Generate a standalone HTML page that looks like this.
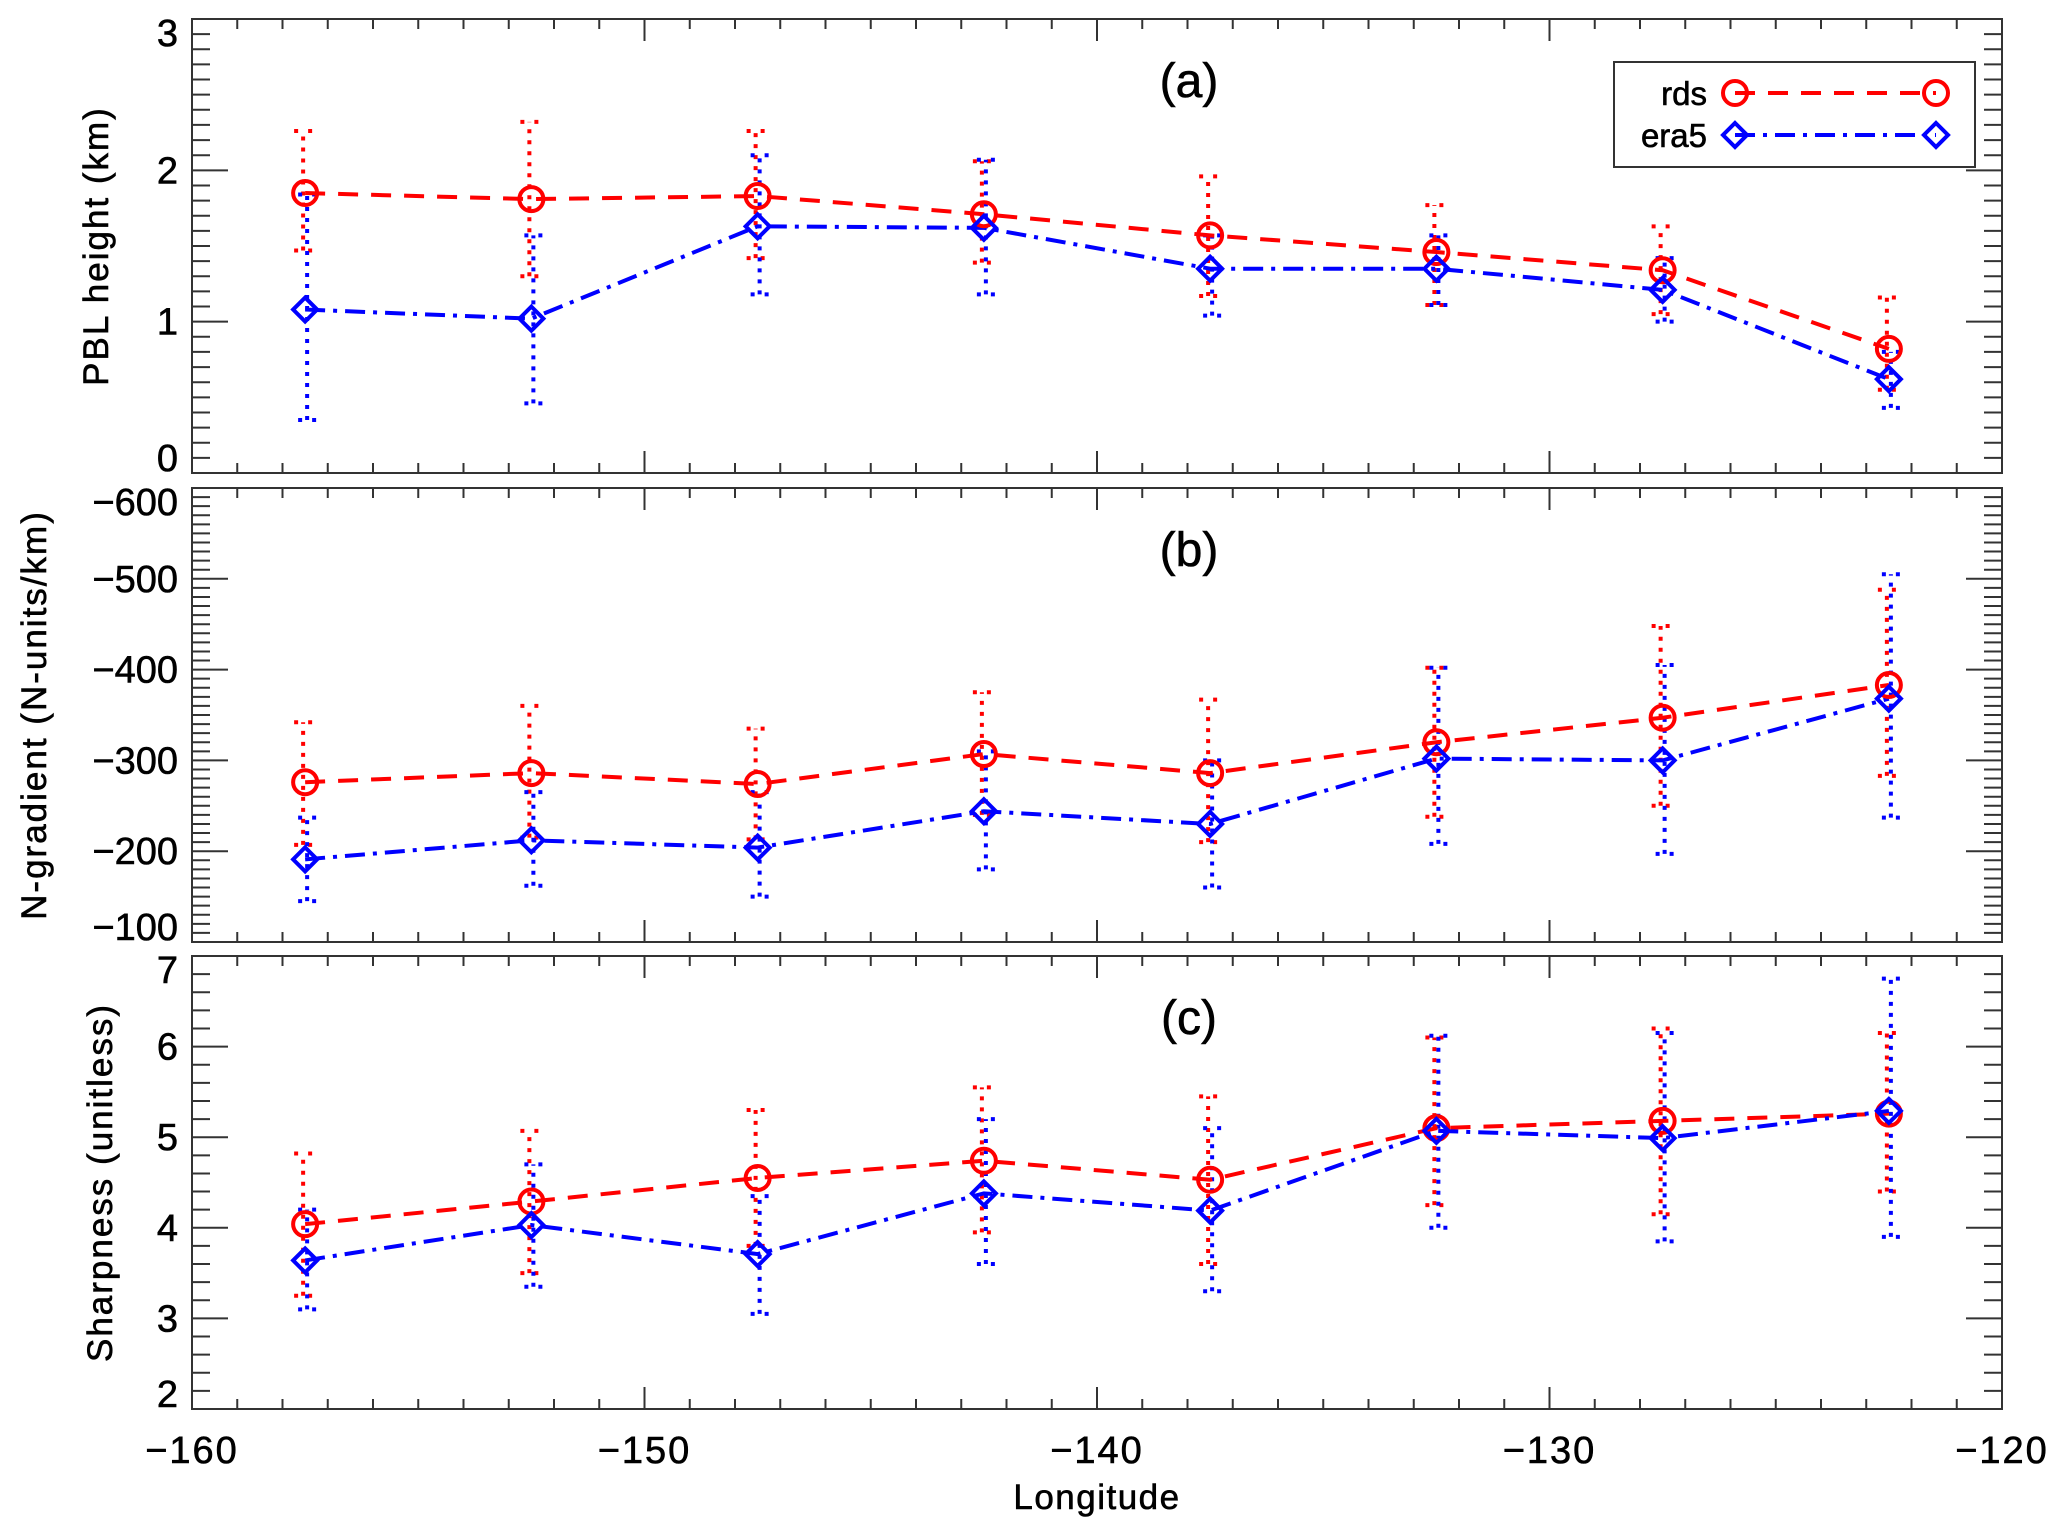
<!DOCTYPE html>
<html><head><meta charset="utf-8"><style>
html,body{margin:0;padding:0;background:#fff;}
svg{display:block;font-family:"Liberation Sans",sans-serif;}
text{stroke:#000;stroke-width:0.6px;}
</style></head><body>
<svg id="chart" width="2067" height="1538" viewBox="0 0 2067 1538" xmlns="http://www.w3.org/2000/svg"></svg>
<script>
const lons = [-157.5,-152.5,-147.5,-142.5,-137.5,-132.5,-127.5,-122.5];
const xTicks = [-160,-150,-140,-130,-120];
const xTickLabels = ["\u2212160","\u2212150","\u2212140","\u2212130","\u2212120"];

const pblRds = [1.85,1.81,1.83,1.71,1.57,1.46,1.34,0.82];
const pblRdsLo = [1.47,1.30,1.42,1.39,1.17,1.11,1.05,0.55];
const pblRdsHi = [2.26,2.32,2.26,2.06,1.96,1.77,1.63,1.16];
const pblEra = [1.08,1.02,1.63,1.62,1.35,1.35,1.21,0.62];
const pblEraLo = [0.35,0.46,1.18,1.18,1.04,1.11,1.00,0.43];
const pblEraHi = [1.84,1.57,2.10,2.07,1.57,1.57,1.42,0.80];

const ngRds = [-276,-286,-274,-307,-286,-320,-347,-383];
const ngRdsLo = [-207,-215,-213,-240,-210,-238,-250,-283];
const ngRdsHi = [-342,-360,-335,-375,-367,-402,-448,-488];
const ngEra = [-191,-212,-204,-244,-230,-302,-300,-368];
const ngEraLo = [-145,-162,-150,-180,-160,-208,-197,-237];
const ngEraHi = [-237,-265,-265,-310,-300,-402,-405,-505];

const shRds = [4.04,4.29,4.55,4.74,4.53,5.10,5.18,5.26];
const shRdsLo = [3.25,3.50,3.80,3.95,3.60,4.25,4.15,4.40];
const shRdsHi = [4.82,5.07,5.30,5.55,5.45,6.10,6.20,6.15];
const shEra = [3.64,4.03,3.71,4.38,4.19,5.07,4.99,5.29];
const shEraLo = [3.10,3.35,3.05,3.60,3.30,4.00,3.85,3.90];
const shEraHi = [4.20,4.70,4.35,5.20,5.10,6.12,6.15,6.75];

const pblTicks=[0,1,2,3], ngTicks=[-100,-200,-300,-400,-500,-600], shTicks=[2,3,4,5,6,7];

const NS="http://www.w3.org/2000/svg";
const svg=document.getElementById('chart');
function mk(tag,attrs,parent){const e=document.createElementNS(NS,tag);for(const k in attrs)e.setAttribute(k,attrs[k]);(parent||svg).appendChild(e);return e;}
const X0=192,X1=2002,xmin=-160,xmax=-120;
const xs=v=>X0+(v-xmin)/(xmax-xmin)*(X1-X0);
const RED="#ff0000",BLUE="#0000ff",AX="#333";

const panels=[
 {key:'a',top:19,bot:473,lo:0,hi:3,ticks:pblTicks,minor:0.1,title:"PBL height (km)",tx:108,label:"(a)",
  r:pblRds,rl:pblRdsLo,rh:pblRdsHi,e:pblEra,el:pblEraLo,eh:pblEraHi,fmt:v=>String(v)},
 {key:'b',top:488,bot:942,lo:-100,hi:-600,ticks:ngTicks,minor:10,title:"N-gradient (N-units/km)",tx:46,label:"(b)",
  r:ngRds,rl:ngRdsLo,rh:ngRdsHi,e:ngEra,el:ngEraLo,eh:ngEraHi,fmt:v=>"\u2212"+Math.abs(v)},
 {key:'c',top:956,bot:1409,lo:2,hi:7,ticks:shTicks,minor:0.2,title:"Sharpness (unitless)",tx:112,label:"(c)",
  r:shRds,rl:shRdsLo,rh:shRdsHi,e:shEra,el:shEraLo,eh:shEraHi,fmt:v=>String(v)}
];

panels.forEach(p=>{
  const g=mk('g',{});
  
  
  const ys=v=>p.bot-(v-p.lo)/(p.hi-p.lo)*(p.bot-p.top);
  const fr=mk('rect',{x:X0,y:p.top,width:X1-X0,height:p.bot-p.top,fill:'none',stroke:AX,'stroke-width':2},g);
  
  
  for(let v=xmin;v<=xmax;v++){
    const major=(v%10===0);const L=major?22:10;const x=xs(v);
    mk('line',{x1:x,y1:p.bot,x2:x,y2:p.bot-L,stroke:AX,'stroke-width':2},g);
    mk('line',{x1:x,y1:p.top,x2:x,y2:p.top+L,stroke:AX,'stroke-width':2},g);
  }
  const n=Math.round(Math.abs(p.hi-p.lo)/p.minor);
  for(let i=0;i<=n;i++){
    const v=p.lo+(p.hi>p.lo?1:-1)*i*p.minor;const y=ys(v);
    const major=(i%10===0)||(p.key==='c'&&i%5===0);
    const L=major?36:18;
    mk('line',{x1:X0,y1:y,x2:X0+L,y2:y,stroke:AX,'stroke-width':2},g);
    mk('line',{x1:X1,y1:y,x2:X1-L,y2:y,stroke:AX,'stroke-width':2},g);
  }
  p.ticks.forEach((v,i)=>{
    let y=ys(v)+13;
    if(Math.abs(y-13-p.top)<2) y=p.top+27;
    if(Math.abs(y-13-p.bot)<2) y=p.bot-2;
    const t=mk('text',{x:X0-14,y:y,'text-anchor':'end','font-size':38,fill:'#000'},g);
    t.textContent=p.fmt(v);
    
    
  });
  const cy=(p.top+p.bot)/2;
  const tt=mk('text',{x:p.tx,y:cy,'text-anchor':'middle','font-size':35,fill:'#000',transform:`rotate(-90 ${p.tx} ${cy})`,'letter-spacing':2},g);
  tt.textContent=p.title;
  
  
  const pl=mk('text',{x:1189,y:p.top+78,'text-anchor':'middle','font-size':48,fill:'#000'},g);
  pl.textContent=p.label;
  
  
  [[p.rl,p.rh,RED,-2],[p.el,p.eh,BLUE,2]].forEach(([lo,hi,c,dx])=>{
    lons.forEach((lon,i)=>{
      const x=xs(lon)+dx;
      const eb=mk('line',{x1:x,y1:ys(lo[i]),x2:x,y2:ys(hi[i]),stroke:c,'stroke-width':4,'stroke-dasharray':'4 7'},g);
      
      
      [lo[i],hi[i]].forEach(v=>{
        mk('line',{x1:x-9,y1:ys(v),x2:x+9,y2:ys(v),stroke:c,'stroke-width':4,'stroke-dasharray':'4 10'},g);
      });
    });
  });
  const ptsR=lons.map((l,i)=>xs(l)+','+ys(p.r[i])).join(' ');
  const ptsE=lons.map((l,i)=>xs(l)+','+ys(p.e[i])).join(' ');
  const lr=mk('polyline',{points:ptsR,fill:'none',stroke:RED,'stroke-width':4,'stroke-dasharray':'20 13'},g);
  
  
  const le=mk('polyline',{points:ptsE,fill:'none',stroke:BLUE,'stroke-width':4,'stroke-dasharray':'20 8 4 8'},g);
  
  
  lons.forEach((l,i)=>{
    const x=xs(l),y=ys(p.r[i]);
    const c=mk('circle',{cx:x,cy:y,r:12,fill:'none',stroke:RED,'stroke-width':4},g);
    
    
    const y2=ys(p.e[i]);
    const d=mk('polygon',{points:`${x},${y2-12} ${x+12},${y2} ${x},${y2+12} ${x-12},${y2}`,fill:'none',stroke:BLUE,'stroke-width':4},g);
    
    
  });
});
xTicks.forEach((v,i)=>{
  const t=mk('text',{x:xs(v),y:1463,'text-anchor':'middle','font-size':38,fill:'#000','letter-spacing':2});
  t.textContent=xTickLabels[i];
  
  
});
const xt=mk('text',{x:1097,y:1509,'text-anchor':'middle','font-size':35,fill:'#000','letter-spacing':1.5});
xt.textContent="Longitude";


const lg=mk('g',{});


mk('rect',{x:1614,y:62,width:361,height:105,fill:'#fff',stroke:AX,'stroke-width':2},lg);
const t1=mk('text',{x:1707,y:105,'text-anchor':'end','font-size':33,fill:'#000'},lg);t1.textContent="rds";


const t2=mk('text',{x:1707,y:147,'text-anchor':'end','font-size':33,fill:'#000'},lg);t2.textContent="era5";


mk('line',{x1:1735,y1:93,x2:1936,y2:93,stroke:RED,'stroke-width':4,'stroke-dasharray':'20 13'},lg);
mk('line',{x1:1735,y1:135,x2:1936,y2:135,stroke:BLUE,'stroke-width':4,'stroke-dasharray':'20 8 4 8'},lg);
[1735,1936].forEach(x=>{
  mk('circle',{cx:x,cy:93,r:12,fill:'none',stroke:RED,'stroke-width':4},lg);
  mk('polygon',{points:`${x},${123} ${x+12},${135} ${x},${147} ${x-12},${135}`,fill:'none',stroke:BLUE,'stroke-width':4},lg);
});
</script>
</body></html>
